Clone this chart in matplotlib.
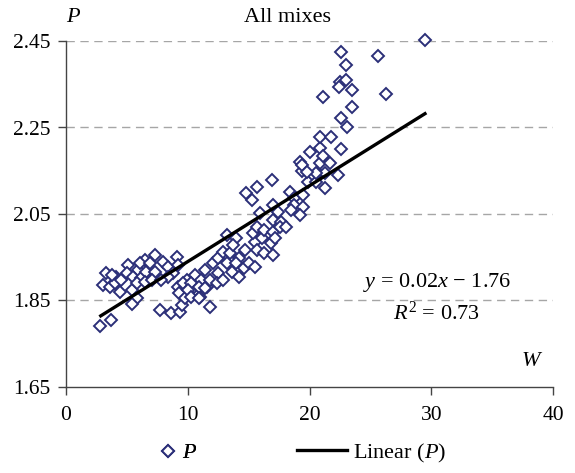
import matplotlib
matplotlib.use("Agg")
import matplotlib.pyplot as plt
from matplotlib.lines import Line2D

plt.rcParams['font.family'] = ['Liberation Serif', 'DejaVu Serif']
plt.rcParams['mathtext.fontset'] = 'custom'
plt.rcParams['mathtext.rm'] = 'Liberation Serif'
plt.rcParams['mathtext.it'] = 'Liberation Serif:italic'

# Scatter data (W, P)
w_vals = [2.8, 3.7, 3.3, 4.1, 3.0, 3.6, 4.0, 4.5, 4.4, 5.4, 5.1, 5.9, 5.0, 5.5, 6.2, 5.8,
          6.5, 6.1, 7.3, 6.9, 6.6, 7.3, 6.5, 7.1, 8.0, 8.4, 9.1, 9.2, 8.8, 8.4, 7.8, 5.8,
          5.4, 9.2, 9.3, 7.7, 8.6, 9.4, 9.5, 9.75, 3.75,
          9.9, 9.6, 10.5, 11.0, 11.6, 11.8, 10.6, 11.1, 11.8, 10.3, 10.9, 11.4, 10.0, 10.3,
          10.9, 11.4, 12.1, 12.5, 12.5, 12.4, 12.9, 12.9, 13.2, 13.5, 13.6, 13.2, 14.0, 13.7,
          14.2, 14.0, 14.2, 14.6, 14.7, 15.0, 15.5, 15.5, 15.7, 15.4, 15.7, 16.1, 16.3, 16.3,
          16.8, 17.0, 15.3, 15.9, 17.0, 17.4, 17.0, 17.7, 14.8, 15.7, 16.9, 17.0, 17.2, 17.6,
          18.1,
          18.4, 18.7, 19.5, 18.7, 19.5, 18.5, 19.2, 19.9, 20.5, 21.3, 20.7, 21.3, 19.2, 19.4,
          19.4, 20.9, 21.7, 20.5, 22.3, 19.8, 20.0, 20.9, 22.6, 21.1, 20.9, 21.8, 22.6, 23.1,
          23.5, 21.1, 26.3, 22.5, 23.0, 22.4, 23.5, 23.0, 22.6, 25.6, 29.5]
p_vals = [1.790, 1.805, 1.913, 1.905, 1.886, 1.882, 1.890, 1.897, 1.870, 1.874, 1.932, 1.920,
          1.913, 1.905, 1.901, 1.890, 1.944, 1.936, 1.955, 1.936, 1.917, 1.917, 1.893, 1.897,
          1.940, 1.928, 1.951, 1.932, 1.913, 1.905, 1.897, 1.855, 1.843, 1.882, 1.867, 1.828,
          1.820, 1.824, 1.840, 1.855, 1.909,
          1.897, 1.890, 1.882, 1.859, 1.882, 1.836, 1.909, 1.897, 1.897, 1.890, 1.882, 1.878,
          1.874, 1.859, 1.855, 1.920, 1.936, 1.948, 1.913, 1.890, 1.897, 1.963, 1.936, 1.960,
          1.917, 2.001, 1.994, 1.978, 1.948, 1.936, 1.905, 1.924, 1.967, 1.936, 1.928, 1.986,
          1.967, 2.005, 2.020, 1.994, 2.013, 1.960, 1.982, 1.955, 2.082, 2.052, 2.071, 2.055,
          2.036, 2.032, 2.098, 2.113, 2.129, 2.009, 1.994, 2.020, 2.020,
          2.100, 2.086, 2.094, 2.071, 2.067, 2.059, 2.048, 2.125, 2.125, 2.110, 2.144, 2.144,
          2.170, 2.150, 2.163, 2.167, 2.167, 2.145, 2.140, 2.148, 2.194, 2.202, 2.200, 2.183,
          2.227, 2.227, 2.273, 2.252, 2.298, 2.321, 2.327, 2.356, 2.360, 2.344, 2.337, 2.395,
          2.425, 2.415, 2.453]

# Linear trend line endpoints
trend_w = [2.74, 29.6]
trend_p = [1.8125, 2.284]

x_ticks = [0, 10, 20, 30, 40]
y_ticks = [1.65, 1.85, 2.05, 2.25, 2.45]
y_tick_labels = ['1.65', '1.85', '2.05', '2.25', '2.45']

navy = '#2b2f78'
FS = 16

fig = plt.figure(figsize=(5.75, 4.73), dpi=100)
ax = fig.add_axes([66/575, 1-387/473, (553-66)/575, (387-41)/473])

for y in y_ticks[1:]:
    ax.axhline(y, color='#a6a6a6', lw=1.0, ls=(0, (6, 4)), zorder=0)

ax.plot(w_vals, p_vals, ls='none', marker='D', ms=6.2, mfc='white', mec=navy, mew=1.4,
        clip_on=False, zorder=3)
ax.plot(trend_w, trend_p, color='black', lw=2.4, zorder=4, solid_capstyle='butt')

ax.set_xlim(0, 40)
ax.set_ylim(1.65, 2.45)
ax.set_xticks(x_ticks)
ax.set_yticks(y_ticks)
ax.set_yticklabels(y_tick_labels)
for s in ['top', 'right']:
    ax.spines[s].set_visible(False)
for s in ['left', 'bottom']:
    ax.spines[s].set_color('#444444')
    ax.spines[s].set_linewidth(1.0)
ax.tick_params(direction='out', length=5.5, width=1.0, color='#444444', labelsize=15.5,
               labelcolor='black')
ax.tick_params(axis='y', pad=5.5)
ax.tick_params(axis='x', pad=8.5)

fig.text(73/575, 1-17/473, 'P', fontsize=FS, fontstyle='italic', ha='center', va='center')
fig.text(287/575, 1-17/473, 'All mixes', fontsize=FS, ha='center', va='center')
fig.text(531/575, 1-361/473, 'W', fontsize=FS, fontstyle='italic', ha='center', va='center')
fig.text(437/575, 1-283/473, r'$y$ = 0.02$x$ $-$ 1.76', fontsize=FS, ha='center', va='center')
fig.text(436/575, 1-313/473, r'$R^2$ = 0.73', fontsize=FS, ha='center', va='center')

h_marker = Line2D([], [], ls='none', marker='D', ms=6.2, mfc='white', mec=navy, mew=1.4)
h_line = Line2D([], [], color='black', lw=2.4)
leg_y = 1 - 453/473
leg1 = fig.legend([h_marker], ['P'], loc='center left', bbox_to_anchor=(157/575, leg_y),
                  frameon=False, fontsize=FS, handlelength=1.0, handletextpad=0.15,
                  borderpad=0, borderaxespad=0, prop={'style': 'italic', 'size': FS})
fig.add_artist(leg1)
fig.legend([h_line], [r'Linear ($P$)'], loc='center left', bbox_to_anchor=(297/575, leg_y),
           frameon=False, fontsize=FS, handlelength=2.25, handletextpad=0.27,
           borderpad=0, borderaxespad=0)

fig.savefig('out.png', dpi=100)
